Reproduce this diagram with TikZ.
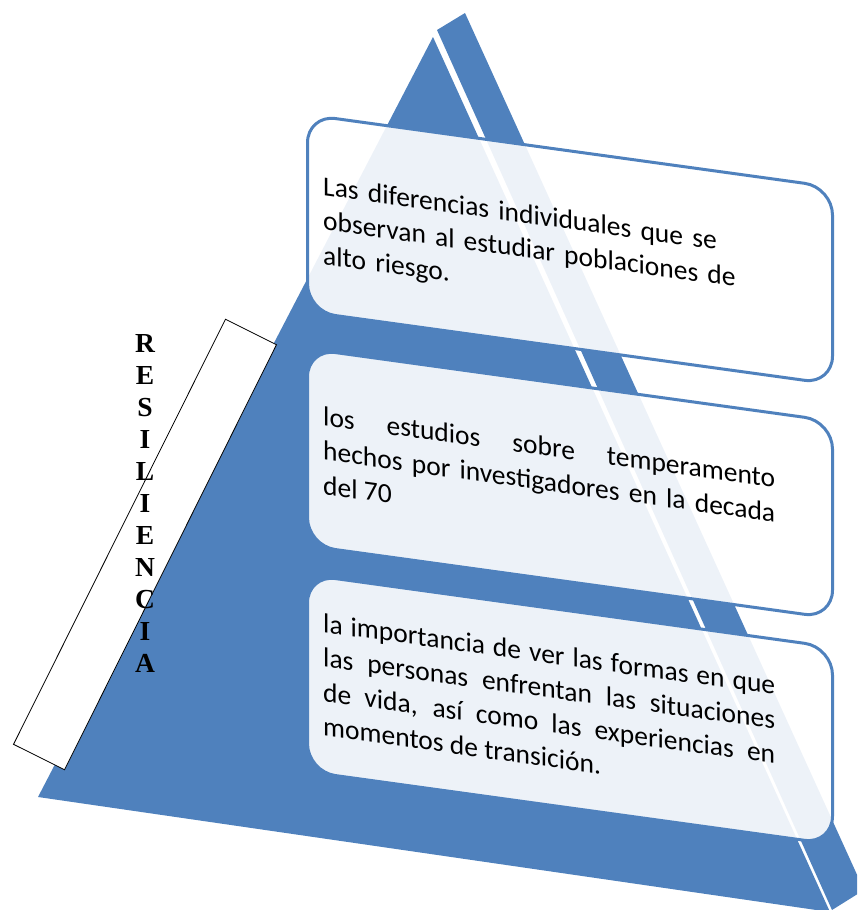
\documentclass[tikz,border=0pt]{standalone}
\usepackage{fontspec}
\setmainfont{Carlito}
\newfontfamily\resfont{Liberation Serif}
\definecolor{pyrblue}{HTML}{4F81BD}
\begin{document}
\begin{tikzpicture}[x=1pt,y=-1pt,
  boxshape/.style={draw=pyrblue, line width=3pt, fill=white, fill opacity=0.9,
    rounded corners=28pt, inner sep=0pt, transform shape, anchor=north west,
    minimum width=525pt, minimum height=197pt},
  boxtext/.style={anchor=north west, inner sep=0pt, text width=452pt,
    font=\fontsize{27.5}{34.5}\selectfont, transform shape, text=black},
  resbox/.style={draw=black, line width=0.8pt, fill=white, inner sep=0pt,
    minimum width=475pt, minimum height=57pt, rotate=63.5},
  letter/.style={anchor=base, inner sep=0pt,
    font=\resfont\bfseries\fontsize{27.5}{32}\selectfont}]
\useasboundingbox (0,0) rectangle (857,910);
\clip (0,0) rectangle (857,910);
% pyramid
\fill[pyrblue] (433,37) -- (38,797) -- (830,912) -- cycle;
\fill[pyrblue] (437,30) -- (465,13) -- (864,890) -- (832,910) -- cycle;
% box 1
\begin{scope}[shift={(306,113)}, yslant=-0.138]
  \node[boxshape] (b1) at (0,0) {};
  \node[boxtext, align=left] (t1) at (17,57.7)
    {\rule{0pt}{22pt}Las diferencias individuales que se\\observan al estudiar poblaciones de\\alto riesgo.};
\end{scope}
% box 2
\begin{scope}[shift={(306,347)}, yslant=-0.138]
  \node[boxshape] (b2) at (0,0) {};
  \node[boxtext, align=justify] (t2) at (17,53.7)
    {\noindent\rule{0pt}{22pt}los estudios sobre temperamento\linebreak hechos por investigadores en la decada\linebreak del 70};
\end{scope}
% box 3
\begin{scope}[shift={(306,573)}, yslant=-0.138]
  \node[boxshape] (b3) at (0,0) {};
  \node[boxtext, align=justify] (t3) at (17,34.7)
    {\noindent\rule{0pt}{22pt}la importancia de ver las formas en que\linebreak las personas enfrentan las situaciones\linebreak de vida, así como las experiencias en\linebreak momentos de transición.};
\end{scope}
% RESILIENCIA
\node[resbox] (rb) at (145,544.5) {};
\foreach \ch [count=\i] in {R,E,S,I,L,I,E,N,C,I,A}
  \node[letter] (l\i) at (145,{352+32*(\i-1)}) {\ch};
\end{tikzpicture}
\end{document}
